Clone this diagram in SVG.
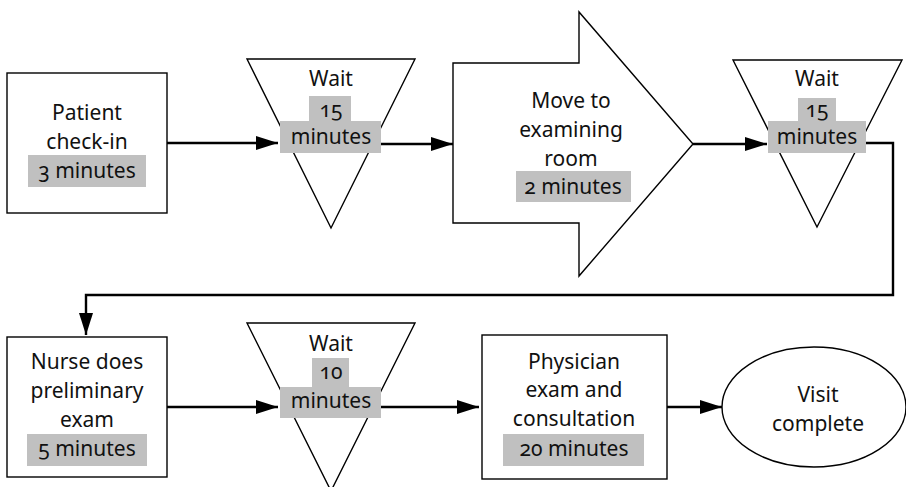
<svg xmlns="http://www.w3.org/2000/svg" width="906" height="487" viewBox="0 0 906 487">
<style>
.shape{fill:#fff;stroke:#000;stroke-width:1.4}
.hl{fill:#c0c0c0}
.t{font-family:"Noto Sans","Open Sans",sans-serif;font-size:21px;fill:#111;text-anchor:middle;font-variant-numeric:oldstyle-nums}
.c{fill:none;stroke:#000;stroke-width:2.4}
</style>
<defs>
<marker id="ah" viewBox="0 0 22 14" refX="22" refY="7" markerWidth="22" markerHeight="14" markerUnits="userSpaceOnUse" orient="auto">
<path d="M0,0 L22,7 L0,14 z" fill="#000"/>
</marker>
</defs>
<rect width="906" height="487" fill="#fff"/>
<g id="checkin">
<rect class="shape" x="7" y="73" width="160" height="140"/>
<rect class="hl" x="28" y="155" width="118" height="32"/>
<text class="t" x="87" y="120">Patient</text>
<text class="t" x="87" y="149">check-in</text>
<text class="t" x="87" y="178">3 minutes</text>
</g>
<g id="wait1">
<polygon class="shape" points="247,59 415,59 331,228"/>
<rect class="hl" x="309" y="96" width="42" height="26"/>
<rect class="hl" x="280" y="121" width="101" height="32"/>
<text class="t" x="331" y="86">Wait</text>
<text class="t" x="331" y="117">15</text>
<text class="t" x="331" y="144">minutes</text>
</g>
<g id="move">
<polygon class="shape" points="453,63 579,63 579,12 693,144 579,276 579,223 453,223"/>
<rect class="hl" x="516" y="171" width="115" height="31"/>
<text class="t" x="571" y="108">Move to</text>
<text class="t" x="571" y="137">examining</text>
<text class="t" x="571" y="166">room</text>
<text class="t" x="573" y="194">2 minutes</text>
</g>
<g id="wait2">
<polygon class="shape" points="733,60 902,60 817,227"/>
<rect class="hl" x="798" y="98" width="38" height="23"/>
<rect class="hl" x="768" y="121" width="98" height="32"/>
<text class="t" x="817" y="86">Wait</text>
<text class="t" x="817" y="117">15</text>
<text class="t" x="817" y="144">minutes</text>
</g>
<g id="nurse">
<rect class="shape" x="7" y="337" width="160" height="140"/>
<rect class="hl" x="27" y="434" width="120" height="32"/>
<text class="t" x="87" y="369">Nurse does</text>
<text class="t" x="87" y="398">preliminary</text>
<text class="t" x="87" y="427">exam</text>
<text class="t" x="87" y="456">5 minutes</text>
</g>
<g id="wait3">
<polygon class="shape" points="247,323 415,323 331,491"/>
<rect class="hl" x="312" y="358" width="37" height="29"/>
<rect class="hl" x="280" y="387" width="101" height="31"/>
<text class="t" x="331" y="351">Wait</text>
<text class="t" x="331" y="379">10</text>
<text class="t" x="331" y="408">minutes</text>
</g>
<g id="physician">
<rect class="shape" x="482" y="335" width="185" height="144"/>
<rect class="hl" x="503" y="434" width="141" height="32"/>
<text class="t" x="574" y="369">Physician</text>
<text class="t" x="574" y="397">exam and</text>
<text class="t" x="574" y="426">consultation</text>
<text class="t" x="574" y="456">20 minutes</text>
</g>
<g id="complete">
<ellipse class="shape" cx="814" cy="407" rx="92" ry="60"/>
<text class="t" x="818" y="402">Visit</text>
<text class="t" x="818" y="431">complete</text>
</g>
<g id="connectors">
<path class="c" d="M167,143 H278" marker-end="url(#ah)"/>
<path class="c" d="M381,144 H453" marker-end="url(#ah)"/>
<path class="c" d="M693,144 H767" marker-end="url(#ah)"/>
<path class="c" d="M866,143 H893 V295 H86 V335" marker-end="url(#ah)"/>
<path class="c" d="M167,407 H278" marker-end="url(#ah)"/>
<path class="c" d="M381,407 H479" marker-end="url(#ah)"/>
<path class="c" d="M667,407 H722" marker-end="url(#ah)"/>
</g>
</svg>
